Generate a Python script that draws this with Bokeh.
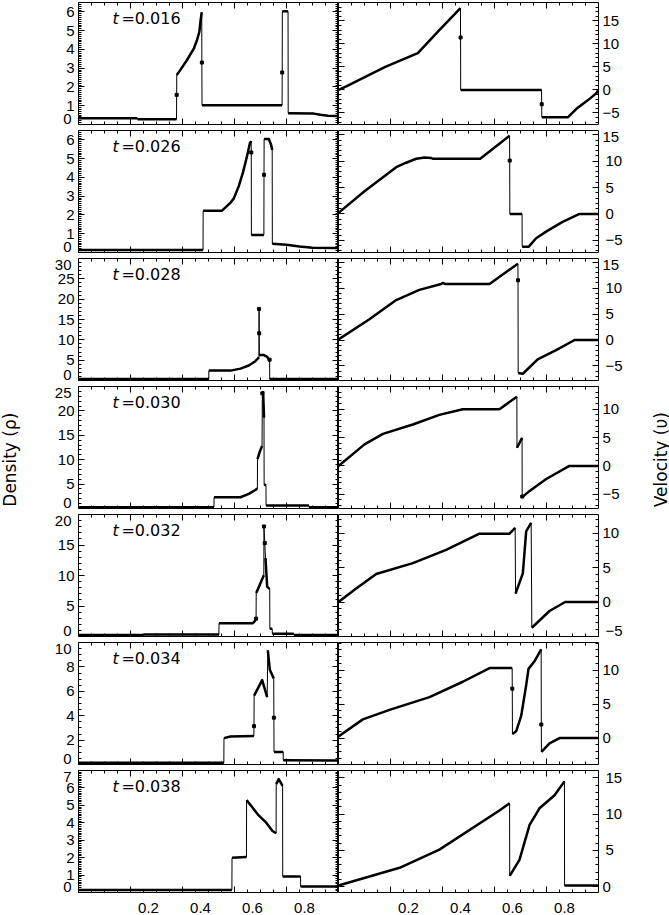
import numpy as np
from bokeh.plotting import figure
from bokeh.models import (GridBox, Label, LinearAxis, SingleIntervalTicker,
                          FixedTicker, CustomJSTickFormatter, Range1d)
from bokeh.embed import file_html
from bokeh.resources import INLINE

times = ["0.016", "0.026", "0.028", "0.030", "0.032", "0.034", "0.038"]
x_ticks = [0.2, 0.4, 0.6, 0.8]

# Density profiles (x, rho) for each output time
rho_x_016 = [0.0, 0.226, 0.227, 0.377, 0.3775, 0.378, 0.392, 0.418, 0.444, 0.456, 0.465, 0.469, 0.474,
             0.4745, 0.475, 0.783, 0.7835, 0.784, 0.795, 0.806, 0.8065, 0.905, 0.93, 0.96, 1.0]
rho_016 = [0.33, 0.33, 0.28, 0.28, 1.58, 2.64, 2.91, 3.45, 4.06, 4.50, 4.95, 5.48, 5.98,
           3.30, 1.03, 1.03, 2.77, 6.02, 6.04, 6.02, 0.60, 0.58, 0.52, 0.47, 0.45]

rho_x_026 = [0.0, 0.479, 0.4795, 0.552, 0.585, 0.597, 0.617, 0.633, 0.649, 0.659, 0.664, 0.6645, 0.665,
             0.713, 0.7135, 0.714, 0.732, 0.741, 0.745, 0.7455, 0.80, 0.85, 0.90, 1.0]
rho_026 = [0.13, 0.13, 2.23, 2.23, 2.66, 2.87, 3.56, 4.28, 5.18, 5.81, 5.94, 5.33, 0.93,
           0.93, 4.14, 6.05, 6.05, 5.73, 5.46, 0.46, 0.41, 0.32, 0.25, 0.24]

rho_x_028 = [0.0, 0.501, 0.5015, 0.585, 0.623, 0.655, 0.680, 0.690, 0.694, 0.6945, 0.695, 0.6955,
             0.70, 0.713, 0.726, 0.732, 0.735, 0.7355, 1.0]
rho_028 = [0.34, 0.34, 2.43, 2.43, 2.92, 3.68, 4.75, 5.41, 5.71, 17.6, 11.6, 6.2,
           6.25, 6.25, 5.8, 5.17, 5.11, 0.34, 0.34]

rho_x_030 = [0.0, 0.521, 0.5215, 0.623, 0.655, 0.680, 0.688, 0.6885, 0.697, 0.706, 0.707, 0.710,
             0.7135, 0.714, 0.721, 0.7215, 0.886, 0.8865, 1.0]
rho_030 = [0.27, 0.27, 2.3, 2.3, 2.99, 3.8, 4.1, 10.1, 11.6, 12.8, 23.6, 24.0,
           18.6, 5.0, 4.7, 0.61, 0.61, 0.27, 0.27]

rho_x_032 = [0.0, 0.251, 0.2515, 0.540, 0.5405, 0.6705, 0.681, 0.683, 0.6835, 0.697, 0.7128, 0.7133,
             0.7165, 0.7192, 0.7256, 0.732, 0.7355, 0.736, 0.745, 0.7455, 0.828, 0.8285, 1.0]
rho_032 = [0.24, 0.24, 0.31, 0.31, 2.19, 2.19, 2.63, 2.93, 7.12, 8.43, 10.04, 18.04,
           15.31, 12.87, 8.19, 7.9, 7.9, 1.27, 1.27, 0.45, 0.45, 0.24, 0.24]

rho_x_034 = [0.0, 0.559, 0.5595, 0.5846, 0.6744, 0.675, 0.6755, 0.7064, 0.7256, 0.7282, 0.7359,
             0.751, 0.7515, 0.752, 0.7872, 0.7877, 1.0]
rho_034 = [0.15, 0.15, 2.16, 2.3, 2.33, 3.14, 5.65, 6.92, 5.52, 9.35, 7.76,
           7.06, 3.84, 1.03, 1.03, 0.34, 0.32]

rho_x_038 = [0.0, 0.59, 0.5905, 0.646, 0.6465, 0.67, 0.69, 0.72, 0.746, 0.76, 0.7605, 0.77,
             0.785, 0.7855, 0.854, 0.8545, 1.0]
rho_038 = [0.15, 0.15, 1.99, 2.04, 5.3, 4.86, 4.47, 4.04, 3.53, 3.4, 6.22, 6.51,
           6.12, 0.92, 0.92, 0.34, 0.34]

# Velocity profiles (x, v) for each output time
v_x_016 = [0.0, 0.03, 0.18, 0.305, 0.386, 0.469, 0.4695, 0.470, 0.781, 0.7815, 0.782, 0.883,
           0.915, 0.96, 0.99, 1.0]
v_016 = [0.0, 0.8, 5.0, 8.0, 12.9, 17.8, 11.4, 0.0, 0.0, -3.1, -5.9, -5.9,
         -4.1, -2.2, -0.8, 0.0]

v_x_026 = [0.0, 0.1, 0.222, 0.26, 0.299, 0.331, 0.356, 0.362, 0.545, 0.658, 0.6585, 0.659,
           0.706, 0.7065, 0.732, 0.76, 0.80, 0.862, 0.927, 1.0]
v_026 = [0.2, 4.3, 8.85, 9.7, 10.45, 10.7, 10.6, 10.45, 10.45, 14.8, 10.1, 0.0,
         0.0, -6.2, -6.2, -4.6, -3.3, -1.5, 0.0, 0.0]

v_x_028 = [0.0, 0.119, 0.222, 0.311, 0.395, 0.401, 0.41, 0.581, 0.690, 0.6905, 0.691, 0.709,
           0.766, 0.837, 0.908, 1.0]
v_028 = [0.1, 4.0, 7.7, 9.65, 10.8, 11.0, 10.8, 10.8, 14.7, 11.5, -6.35, -6.5,
         -3.75, -1.94, 0.0, 0.0]

v_x_030 = [0.0, 0.1, 0.171, 0.286, 0.388, 0.478, 0.619, 0.686, 0.6865, 0.706, 0.7065, 0.709,
           0.735, 0.799, 0.888, 1.0]
v_030 = [0.0, 3.8, 5.65, 7.3, 9.0, 10.0, 10.0, 12.2, 3.2, 4.95, -5.4, -5.4,
         -4.4, -2.3, 0.0, 0.0]

v_x_032 = [0.0, 0.068, 0.145, 0.286, 0.414, 0.542, 0.658, 0.6795, 0.681, 0.709, 0.7218, 0.741,
           0.7436, 0.8115, 0.8718, 1.0]
v_032 = [0.0, 1.97, 4.07, 5.64, 7.58, 9.92, 9.92, 10.76, 1.24, 4.16, 10.26, 11.49,
         -3.73, -1.3, 0.0, 0.0]

v_x_034 = [0.0, 0.0936, 0.1962, 0.35, 0.4782, 0.5808, 0.6679, 0.6684, 0.669, 0.6833, 0.7026,
           0.7218, 0.7308, 0.7538, 0.7795, 0.78, 0.7805, 0.8115, 0.85, 1.0]
v_034 = [0.23, 2.76, 4.16, 6.04, 8.31, 10.32, 10.32, 7.29, 0.59, 0.99, 3.26,
         7.79, 10.21, 11.33, 13.09, 2.0, -2.04, -0.77, 0.0, 0.0]

v_x_038 = [0.0, 0.235, 0.388, 0.619, 0.658, 0.6585, 0.696, 0.735, 0.773, 0.831, 0.869, 0.8695, 1.0]
v_038 = [0.16, 2.6, 5.1, 10.5, 11.5, 1.5, 3.7, 8.5, 10.8, 12.6, 14.5, 0.16, 0.16]

rho_profiles = [(rho_x_016, rho_016), (rho_x_026, rho_026), (rho_x_028, rho_028),
                (rho_x_030, rho_030), (rho_x_032, rho_032), (rho_x_034, rho_034),
                (rho_x_038, rho_038)]
v_profiles = [(v_x_016, v_016), (v_x_026, v_026), (v_x_028, v_028), (v_x_030, v_030),
              (v_x_032, v_032), (v_x_034, v_034), (v_x_038, v_038)]

# axis set-up per row
rho_ranges = [(0, 6.5), (0, 6.5), (0, 30), (0, 25), (0, 20), (0, 10), (0, 7)]
rho_steps = [1, 1, 5, 5, 5, 2, 1]
rho_minor = [10, 10, 5, 5, 5, 4, 10]
v_ranges = [(-7.5, 19.0), (-7.3, 15.8), (-7.8, 15.7), (-7.5, 14.0), (-5.0, 12.7),
            (-3.9, 14.1), (-0.8, 16.0)]
v_step, v_minor = 5, 5

FRAME_W, FRAME_H = 260, 122
ROW_H, LAST_H = 128, 147
EDGE_PX = 6          # tick labels are kept at least this far inside the frame
X_LABEL_SHIFT = 18   # px; bottom tick labels sit to the right of their ticks
TICK_FONT = "Liberation Sans"
TICK_PX = 15
TEXT_FONT = "DejaVu Sans"

minus_fmt = "return (tick < 0 ? '\\u2212' : '') + Math.abs(tick).toString();"
blank_fmt = "return '';"
x_minor = [round(0.05 * k, 2) for k in range(1, 20) if k % 4 != 0]


def tick_text(t):
    return ("\u2212" if t < 0 else "") + f"{abs(t):g}"


def text_width(s):
    # advance widths of Liberation Sans digits / minus sign
    return sum((0.584 if ch == "\u2212" else 0.556) * TICK_PX for ch in s)


def ticks_only(ax):
    ax.axis_line_color = None
    ax.major_tick_in, ax.major_tick_out = 6, 0
    ax.minor_tick_in, ax.minor_tick_out = 3, 0
    ax.major_tick_line_color = "black"
    ax.minor_tick_line_color = "black"
    ax.formatter = CustomJSTickFormatter(code=blank_fmt)
    ax.major_label_text_font_size = "0px"
    ax.major_label_standoff = 0
    return ax


def labels_only(ax, standoff=4):
    ax.axis_line_color = None
    ax.major_tick_in = ax.major_tick_out = 0
    ax.minor_tick_in = ax.minor_tick_out = 0
    ax.major_tick_line_color = None
    ax.minor_tick_line_color = None
    ax.major_label_text_font = TICK_FONT
    ax.major_label_text_font_size = f"{TICK_PX}px"
    ax.major_label_text_color = "black"
    ax.major_label_standoff = standoff
    return ax


def add_value_axes(p, yr, step, minor, side):
    lo, hi = yr
    px = FRAME_H / (hi - lo)
    majors = [k * step for k in range(int(np.ceil(lo / step)), int(np.floor(hi / step)) + 1)]
    dist = {t: min(t - lo, hi - t) * px for t in majors}
    inner = [t for t in majors if dist[t] >= EDGE_PX]
    edge = [t for t in majors if dist[t] < EDGE_PX]

    for loc in ("left", "right"):
        p.add_layout(ticks_only(LinearAxis(
            ticker=SingleIntervalTicker(interval=step, num_minor_ticks=minor))), loc)

    groups = [(inner, None)]
    if edge:
        # labels whose tick sits on the frame edge are read through a range that
        # places them EDGE_PX inside the frame
        f = EDGE_PX / FRAME_H
        if len(edge) == 1:
            t = edge[0]
            target = f if (t - lo) <= (hi - t) else 1 - f
            a = t - target * (hi - lo)
            b = a + (hi - lo)
        else:
            tb, tt = edge[0], edge[-1]
            span = (tt - tb) / (1 - 2 * f)
            a = tb - f * span
            b = a + span
        p.extra_y_ranges = {"edge": Range1d(a, b)}
        groups.append((edge, "edge"))

    # narrower labels nearest the frame; the outer axis is pulled back so both
    # sets of labels line up at the same distance from the frame
    widths = [max(text_width(tick_text(t)) for t in ticks) for ticks, _ in groups]
    order = sorted(range(len(groups)), key=lambda i: widths[i])
    first_w = None
    for i in order:
        ticks, rname = groups[i]
        kw = {"y_range_name": rname} if rname else {}
        ax = LinearAxis(ticker=FixedTicker(ticks=ticks, minor_ticks=[]),
                        formatter=CustomJSTickFormatter(code=minus_fmt), **kw)
        standoff = 4 if first_w is None else -int(round(first_w))
        p.add_layout(labels_only(ax, standoff), side)
        if first_w is None:
            first_w = widths[i]


def draw_profile(p, xs, ys):
    xs = np.asarray(xs, dtype=float)
    ys = np.asarray(ys, dtype=float)
    jump = np.diff(xs) < 0.0035
    # thin line everywhere, heavier stroke on the resolved (non-jump) stretches
    p.line(xs, ys, line_width=1, line_color="black")
    runs_x, runs_y, cx, cy = [], [], [], []
    for i, j in enumerate(jump):
        if not j:
            if not cx:
                cx, cy = [xs[i]], [ys[i]]
            cx.append(xs[i + 1])
            cy.append(ys[i + 1])
        elif cx:
            runs_x.append(cx)
            runs_y.append(cy)
            cx, cy = [], []
    if cx:
        runs_x.append(cx)
        runs_y.append(cy)
    p.multi_line(runs_x, runs_y, line_width=2.5, line_color="black", line_join="round")
    # cells caught inside a jump show up as single dots
    mid = np.zeros(len(xs), dtype=bool)
    mid[1:-1] = jump[:-1] & jump[1:]
    p.scatter(xs[mid], ys[mid], marker="square", size=3, color="black")


def make_panel(row, side):
    last = row == len(times) - 1
    left = side == "left"
    yr = rho_ranges[row] if left else v_ranges[row]
    p = figure(width=FRAME_W + (50 if left else 40), height=LAST_H if last else ROW_H,
               x_range=(0, 1), y_range=yr, output_backend="svg", toolbar_location=None,
               x_axis_location=None, y_axis_location=None,
               min_border_left=50 if left else 0, min_border_right=0 if left else 40,
               min_border_top=2, min_border_bottom=(LAST_H - ROW_H + 4) if last else 4)
    p.xgrid.visible = False
    p.ygrid.visible = False
    p.outline_line_color = "black"
    p.outline_line_width = 1
    p.background_fill_color = "white"
    p.border_fill_color = "white"

    if left:
        add_value_axes(p, yr, rho_steps[row], rho_minor[row], "left")
    else:
        add_value_axes(p, yr, v_step, v_minor, "right")
    for loc in ("above", "below"):
        p.add_layout(ticks_only(LinearAxis(
            ticker=FixedTicker(ticks=x_ticks, minor_ticks=x_minor))), loc)
    if last:
        shift = X_LABEL_SHIFT / FRAME_W
        p.extra_x_ranges = {"xlab": Range1d(-shift, 1 - shift)}
        p.add_layout(labels_only(LinearAxis(
            x_range_name="xlab", ticker=FixedTicker(ticks=x_ticks, minor_ticks=[])),
            standoff=10), "below")

    xs, ys = rho_profiles[row] if left else v_profiles[row]
    draw_profile(p, xs, ys)

    if left:
        y0, y1 = yr
        ylab = y1 - 16.0 / FRAME_H * (y1 - y0)
        p.add_layout(Label(x=0.131, y=ylab, text="t", text_font=TEXT_FONT,
                           text_font_style="italic", text_font_size="16px",
                           text_baseline="middle", text_color="black"))
        p.add_layout(Label(x=0.165, y=ylab, text="=" + times[row], text_font=TEXT_FONT,
                           text_font_size="16px", text_baseline="middle", text_color="black"))
    return p


def title_panel(width, text, xpos):
    total_h = 6 * ROW_H + LAST_H
    p = figure(width=width, height=total_h, x_range=(0, width), y_range=(0, total_h),
               output_backend="svg", toolbar_location=None,
               x_axis_location=None, y_axis_location=None, min_border=0)
    p.xgrid.visible = False
    p.ygrid.visible = False
    p.outline_line_color = None
    p.add_layout(Label(x=xpos, y=445, text=text, angle=np.pi / 2, text_font=TEXT_FONT,
                       text_font_size="17px", text_align="center", text_baseline="middle",
                       text_color="black"))
    return p


children = [(title_panel(28, "Density (\u03c1)", 9), 0, 0, 7, 1)]
for r in range(len(times)):
    children.append((make_panel(r, "left"), r, 1))
    children.append((make_panel(r, "right"), r, 2))
children.append((title_panel(31, "Velocity (\u03c5)", 22), 0, 3, 7, 1))

grid = GridBox(children=children, spacing=0)

open("out.html", "w").write(file_html(grid, INLINE))
